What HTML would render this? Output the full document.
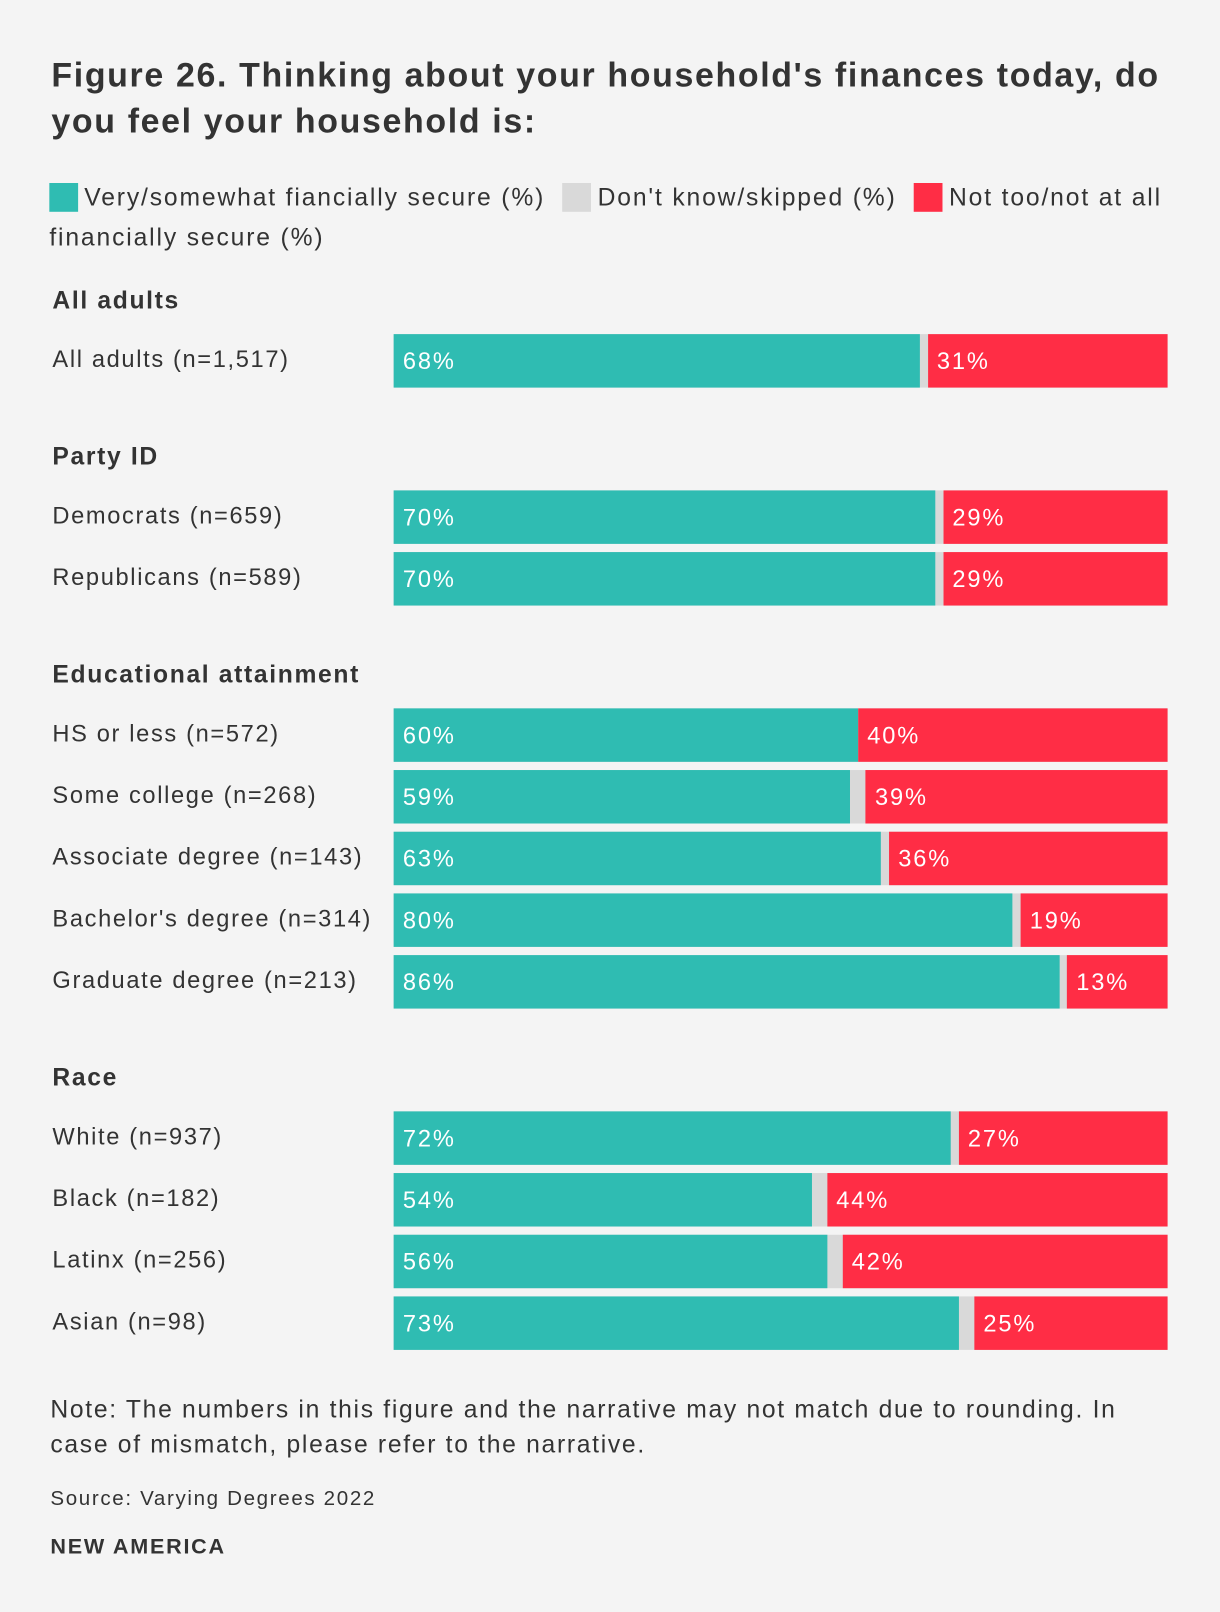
<!DOCTYPE html>
<html><head><meta charset="utf-8">
<style>
html,body{margin:0;padding:0;background:#f4f4f4;width:1220px;height:1612px;overflow:hidden}
#wrap{position:absolute;left:0;top:0;width:1187px;height:1568px;transform:scale(1.0278,1.0281);transform-origin:0 0;font-family:"Liberation Sans",sans-serif;color:#333}
.t{position:absolute;white-space:nowrap}
#title{left:50px;top:50px;font-size:33px;font-weight:bold;line-height:45px;white-space:nowrap;width:1110px;color:#333;letter-spacing:1.6px}
.leg{position:absolute;font-size:24px;line-height:39px;left:48px;top:173px;width:1140px;letter-spacing:1.8px;white-space:nowrap}
.sw{display:inline-block;width:28px;height:28px;vertical-align:-6px;margin-right:6px}
.hdr{font-size:24px;font-weight:bold;letter-spacing:1.6px}
.lbl{font-size:23px;letter-spacing:1.6px}
.val{font-size:23px;color:#fff;letter-spacing:1.8px}
</style></head><body>
<div id="wrap">
<div id="title" class="t">Figure 26. Thinking about your household's finances today, do<br>you feel your household is:</div>
<div class="leg"><span><span class="sw" style="background:#2fbcb2"></span>Very/somewhat fiancially secure (%)</span>&nbsp;&nbsp;<span><span class="sw" style="background:#d9d9d9"></span>Don't know/skipped (%)</span>&nbsp;&nbsp;<span><span class="sw" style="background:#ff2d45"></span>Not too/not at all<br>financially secure (%)</span></div>
<div id="bars"></div>
<div class="t" style="left:49px;top:1355px;font-size:24px;line-height:34px;white-space:nowrap;letter-spacing:1.65px">Note: The numbers in this figure and the narrative may not match due to rounding. In<br>case of mismatch, please refer to the narrative.</div>
<div class="t" style="left:49px;top:1447px;font-size:20px;letter-spacing:1.6px">Source: Varying Degrees 2022</div>
<div class="t" style="left:49px;top:1493px;font-size:21px;font-weight:bold;letter-spacing:1.7px">NEW AMERICA</div>
</div>
<script>
const groups=["All adults","Party ID","Educational attainment","Race"];
const categories=["All adults (n=1,517)","Democrats (n=659)","Republicans (n=589)","HS or less (n=572)","Some college (n=268)","Associate degree (n=143)","Bachelor's degree (n=314)","Graduate degree (n=213)","White (n=937)","Black (n=182)","Latinx (n=256)","Asian (n=98)"];
const categoryGroup=[0,1,1,2,2,2,2,2,3,3,3,3];
const secure=[68,70,70,60,59,63,80,86,72,54,56,73];
const notSecure=[31,29,29,40,39,36,19,13,27,44,42,25];
const X0=383,X1=1136;
const xs=v=>(X1-X0)*v/100;
const root=document.getElementById('bars');
let y=275,prev=-1;
categories.forEach((c,i)=>{
  if(categoryGroup[i]!==prev){
    if(prev!==-1)y+=42;
    const h=document.createElement('div');
    h.className='t hdr';h.style.left='51px';h.style.top=(y+4)+'px';h.textContent=groups[categoryGroup[i]];
    
    
    root.appendChild(h);
    y+=50;prev=categoryGroup[i];
  }
  const l=document.createElement('div');
  l.className='t lbl';l.style.left='51px';l.style.top=(y+11)+'px';l.textContent=c;
  
  
  root.appendChild(l);
  const g=document.createElement('div');
  g.className='t';g.style.cssText=`left:${X0}px;top:${y}px;width:${X1-X0}px;height:52px;background:#d9d9d9`;
  
  
  root.appendChild(g);
  const s=document.createElement('div');
  s.className='t';s.style.cssText=`left:${X0}px;top:${y}px;width:${xs(secure[i])}px;height:52px;background:#2fbcb2`;
  
  
  root.appendChild(s);
  const r=document.createElement('div');
  r.className='t';r.style.cssText=`left:${X1-xs(notSecure[i])}px;top:${y}px;width:${xs(notSecure[i])}px;height:52px;background:#ff2d45`;
  
  
  root.appendChild(r);
  const sv=document.createElement('div');
  sv.className='t val';sv.style.left=(X0+9)+'px';sv.style.top=(y+13)+'px';sv.textContent=secure[i]+'%';
  
  
  root.appendChild(sv);
  const rv=document.createElement('div');
  rv.className='t val';rv.style.left=(X1-xs(notSecure[i])+9)+'px';rv.style.top=(y+13)+'px';rv.textContent=notSecure[i]+'%';
  
  
  root.appendChild(rv);
  y+=60;
});
</script>
</body></html>
